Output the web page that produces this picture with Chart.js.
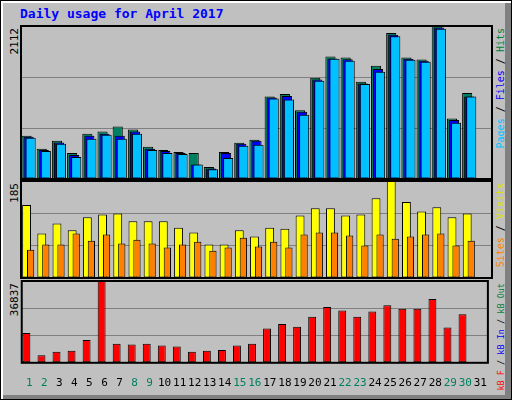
<!DOCTYPE html>
<html>
<head>
<meta charset="utf-8">
<script src="https://cdn.jsdelivr.net/npm/chart.js@4/dist/chart.umd.min.js"></script>
<style>
  body { margin: 0; }
  #frame { position: relative; width: 510px; height: 398px; background: #c0c0c0;
    border: 1px solid #000; box-shadow: inset 2px 2px 0 #fff, inset -6px -4px 0 #808080; overflow: hidden;
    font-family: "DejaVu Sans Mono", monospace; }
  .box { position: absolute; }
  .title { position: absolute; left: 19px; top: 5px; color: #0000ff; font-weight: bold; font-size: 13px; }
  .vl { position: absolute; writing-mode: vertical-rl; transform: rotate(180deg); font-size: 11px; white-space: nowrap; }
</style>
</head>
<body>
<div id="frame">
  <div class="title">Daily usage for April 2017</div>
  <div class="vl" style="left:7px;top:27px;">2112</div>
  <div class="vl" style="left:7px;top:182px;">185</div>
  <div class="vl" style="left:7px;top:282px;">36837</div>
  <div class="vl" style="left:494px;top:27px;font-size:10px;"><span style="color:#00c0ff">Pages</span> / <span style="color:#0000ff">Files</span> / <span style="color:#008040">Hits</span></div>
  <div class="vl" style="left:494px;top:182px;font-size:10px;"><span style="color:#ff8000">Sites</span> / <span style="color:#e0e000">Visits</span></div>
  <div class="vl" style="left:495px;top:282px;font-size:8.5px;"><span style="color:#ff0000">kB F</span> / <span style="color:#0000ff">kB In</span> / <span style="color:#008040">kB Out</span></div>
  <div class="box" style="left:19px;top:24px;width:473px;height:155px;"><canvas id="c1"></canvas></div>
  <div class="box" style="left:19px;top:179px;width:473px;height:99px;"><canvas id="c2"></canvas></div>
  <div class="box" style="left:19px;top:279px;width:473px;height:116px;"><canvas id="c3"></canvas></div>
</div>
<script>
const days = ['1','2','3','4','5','6','7','8','9','10','11','12','13','14','15','16','17','18','19','20','21','22','23','24','25','26','27','28','29','30','31'];
const weekend = ['1','2','8','9','15','16','22','23','29','30'];

const hits  = [598,416,528,360,626,654,724,682,444,402,374,360,164,374,500,542,1140,1173,949,1397,1692,1678,1341,1565,2014,1678,1650,2112,836,1187];
const files = [584,402,505,332,598,626,598,654,416,388,360,201,145,360,486,528,1126,1145,930,1374,1664,1654,1318,1519,1991,1659,1631,2090,813,1140];
const pages = [570,388,486,304,556,612,556,626,402,360,346,201,136,290,458,472,1112,1098,888,1355,1659,1631,1313,1481,1972,1645,1617,2075,776,1140];

const visits = [139,85,104,91,116,121,123,108,108,108,96,87,64,64,91,79,96,94,119,133,133,119,121,152,185,145,127,135,116,123];
const sites  = [54,64,64,85,71,83,66,73,66,58,64,69,52,58,77,60,69,58,83,87,87,81,62,83,75,79,83,85,62,71];

const kbytes = [13440,3360,4973,5376,10215,36837,8602,8198,8602,7795,7392,4973,5376,5779,7795,8602,15456,17472,16262,20698,25133,23520,20698,23117,25939,24326,24326,28762,15859,21907];

// frame around the plot, and draw datasets first-to-last so the right-hand bar sits on top
const frame = {
  id: 'frame',
  beforeDatasetsDraw(chart) {
    chart.data.datasets.forEach((d, i) => chart.getDatasetMeta(i).controller.draw());
    return false;
  },
  afterDraw(chart) {
    const a = chart.chartArea, ctx = chart.ctx;
    ctx.save();
    ctx.strokeStyle = '#000';
    ctx.lineWidth = 2;
    ctx.strokeRect(a.left, a.top, a.right - a.left, a.bottom - a.top);
    ctx.restore();
  }
};

function bar(label, data, color, extra) {
  return Object.assign({ label, data, backgroundColor: color, borderColor: '#000',
    borderWidth: 1, borderSkipped: false }, extra || {});
}

function opts(max, showX) {
  return {
    responsive: true, maintainAspectRatio: false, animation: false,
    layout: { padding: { left: 1, right: 1, top: 1, bottom: showX ? 0 : 1 } },
    plugins: { legend: { display: false }, tooltip: { enabled: false } },
    scales: {
      x: {
        display: showX,
        grid: { display: false },
        border: { display: false },
        ticks: {
          autoSkip: false, maxRotation: 0, padding: 6,
          font: { family: 'DejaVu Sans Mono', size: 11 },
          color: ctx => weekend.includes(days[ctx.index]) ? '#008060' : '#000'
        }
      },
      y: {
        min: 0, max: max,
        afterBuildTicks: s => { s.ticks = [0, max / 3, max * 2 / 3, max].map(v => ({ value: v })); },
        ticks: { display: false },
        grid: { color: '#808080', lineWidth: 1, drawTicks: false },
        border: { display: false }
      }
    }
  };
}

new Chart(document.getElementById('c1'), {
  type: 'bar',
  data: { labels: days, datasets: [
    bar('Hits', hits, '#008060', { categoryPercentage: 0.4, barPercentage: 5 }),
    bar('Files', files, '#0000ff', { categoryPercentage: 0.4, barPercentage: 5 }),
    bar('Pages', pages, '#00c0ff', { categoryPercentage: 0.4, barPercentage: 5 })
  ] },
  options: opts(2112, false),
  plugins: [frame]
});

new Chart(document.getElementById('c2'), {
  type: 'bar',
  data: { labels: days, datasets: [
    bar('Visits', visits, '#ffff00', { categoryPercentage: 0.53, barPercentage: 2.2 }),
    bar('Sites', sites, '#ff8000', { categoryPercentage: 0.53, barPercentage: 1.8 })
  ] },
  options: opts(185, false),
  plugins: [frame]
});

new Chart(document.getElementById('c3'), {
  type: 'bar',
  data: { labels: days, datasets: [
    bar('kB F', kbytes, '#ff0000', { categoryPercentage: 0.75, barPercentage: 1.4 }),
    bar('', [], 'rgba(0,0,0,0)', { categoryPercentage: 0.75, barPercentage: 1.4, borderWidth: 0 })
  ] },
  options: opts(36837, true),
  plugins: [frame]
});
</script>
</body>
</html>
